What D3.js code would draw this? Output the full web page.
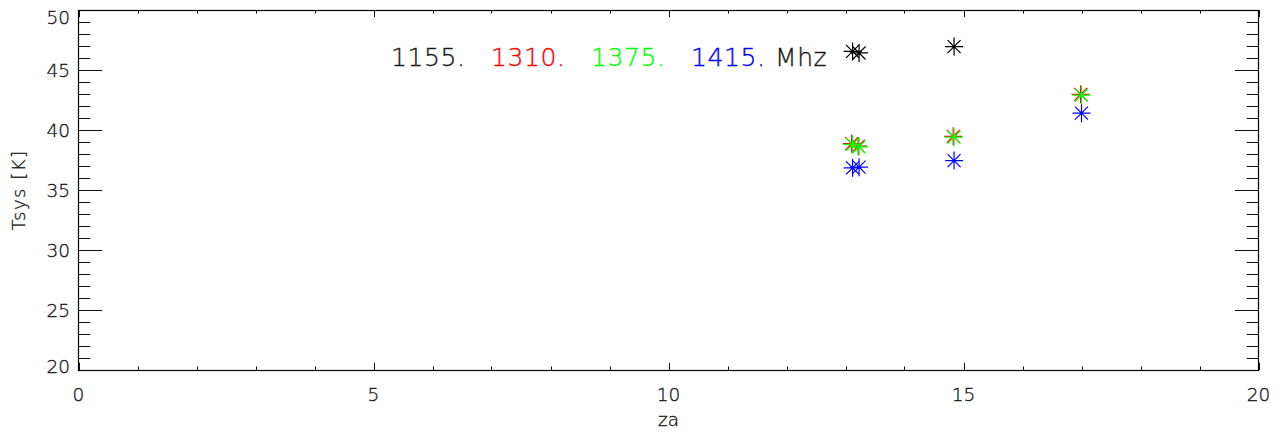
<!DOCTYPE html>
<html>
<head>
<meta charset="utf-8">
<script src="https://cdn.jsdelivr.net/npm/d3@7"></script>
<style>
  html, body { margin: 0; padding: 0; background: #fff; }
  svg { display: block; font-family: "DejaVu Sans", "Liberation Sans", Arial, sans-serif; font-weight: 200; }
</style>
</head>
<body>
<svg id="chart" width="1286" height="434"></svg>
<script>
// ---- data ----
const xTicks = [0, 5, 10, 15, 20];
const yTicks = [20, 25, 30, 35, 40, 45, 50];
const freqLabels = ["1155.", "1310.", "1375.", "1415."];
const seriesColors = ["#000000", "#ff0000", "#00ff00", "#0000ff"];

const za1155 = [13.12, 13.23, 14.84];
const tsys1155 = [46.55, 46.42, 46.95];
const za1310 = [13.105, 13.215, 14.825, 16.985];
const tsys1310 = [38.87, 38.66, 39.47, 42.97];
const za1375 = [13.12, 13.23, 14.84, 17.0];
const tsys1375 = [38.8, 38.6, 39.4, 42.9];
const za1415 = [13.12, 13.23, 14.84, 17.0];
const tsys1415 = [36.85, 36.9, 37.45, 41.4];

const series = [
  { za: za1155, t: tsys1155 },
  { za: za1310, t: tsys1310 },
  { za: za1375, t: tsys1375 },
  { za: za1415, t: tsys1415 }
];

// ---- layout ----
const svg = d3.select("#chart");
const L = 78.5, R = 1258.5, T = 10, B = 370;
const x = d3.scaleLinear().domain([0, 20]).range([L, R]);
const y = d3.scaleLinear().domain([20, 50]).range([B, T]);
const xMajor = (B - T) * 0.02, xMinor = xMajor / 2;
const yMajor = (R - L) * 0.02, yMinor = yMajor / 2;
const textColor = "#1a1a1a";

const xMinorVals = d3.range(0, 20.001, 1).filter(v => v % 5 !== 0);
const yMinorVals = d3.range(20, 50.001, 1).filter(v => v % 5 !== 0);

const g = svg.append("g");
const tk = g.append("g").attr("stroke", "#111").attr("stroke-width", 1);
function xt(vals, len) {
  vals.forEach(v => {
    const px = Math.round(x(v)) + 0.5;
    tk.append("line").attr("x1", px).attr("x2", px).attr("y1", B).attr("y2", B - len);
    tk.append("line").attr("x1", px).attr("x2", px).attr("y1", T).attr("y2", T + len);
  });
}
function yt(vals, len) {
  vals.forEach(v => {
    const py = Math.round(y(v)) + 0.5;
    tk.append("line").attr("x1", L).attr("x2", L + len).attr("y1", py).attr("y2", py);
    tk.append("line").attr("x1", R).attr("x2", R - len).attr("y1", py).attr("y2", py);
  });
}
xt(xTicks, xMajor); xt(xMinorVals, xMinor);
yt(yTicks, yMajor); yt(yMinorVals, yMinor);

g.append("rect").attr("x", L).attr("y", T + 0.5).attr("width", R - L).attr("height", B - T)
  .attr("fill", "none").attr("stroke", "#000").attr("stroke-width", 1.2);

function ink(sel, c) {
  return sel.attr("fill", c).attr("stroke", c).attr("stroke-width", 0.35);
}

// tick labels
ink(g.selectAll(".xl").data(xTicks).enter().append("text")
  .attr("x", d => x(d)).attr("y", 401).attr("text-anchor", "middle")
  .attr("font-size", 18.5).text(d => d), textColor);
ink(g.selectAll(".yl").data(yTicks).enter().append("text")
  .attr("x", 70).attr("y", d => Math.min(Math.max(y(d), 17), 366)).attr("dy", "0.36em")
  .attr("text-anchor", "end").attr("font-size", 18.5).text(d => d), textColor);

// axis titles
ink(g.append("text").attr("x", (L + R) / 2).attr("y", 426).attr("text-anchor", "middle")
  .attr("font-size", 18.5).text("za"), textColor);
ink(g.append("text").attr("transform", "translate(25,190) rotate(-90)").attr("text-anchor", "middle")
  .attr("font-size", 18).attr("letter-spacing", 1.5).text("Tsys [K]"), textColor);

// legend
const lg = g.append("g").attr("font-size", 25).attr("letter-spacing", 0.6);
freqLabels.forEach((s, i) => {
  ink(lg.append("text").attr("x", 391 + i * 100).attr("y", 66).text(s),
    i === 0 ? textColor : seriesColors[i]);
});
ink(lg.append("text").attr("x", 775).attr("y", 66).text("Mhz"), textColor);

// asterisk markers
const r = 9, d = 6.5;
const starPath = `M${-r},0L${r},0M0,${-r}L0,${r}M${-d},${-d}L${d},${d}M${-d},${d}L${d},${-d}`;
series.forEach((s, i) => {
  g.append("g").selectAll("path").data(s.za.map((z, k) => [z, s.t[k]])).enter()
    .append("path")
    .attr("transform", p => `translate(${x(p[0])},${y(p[1])})`)
    .attr("d", starPath)
    .attr("fill", "none").attr("stroke", seriesColors[i]).attr("stroke-width", 1.2);
});
</script>
</body>
</html>
